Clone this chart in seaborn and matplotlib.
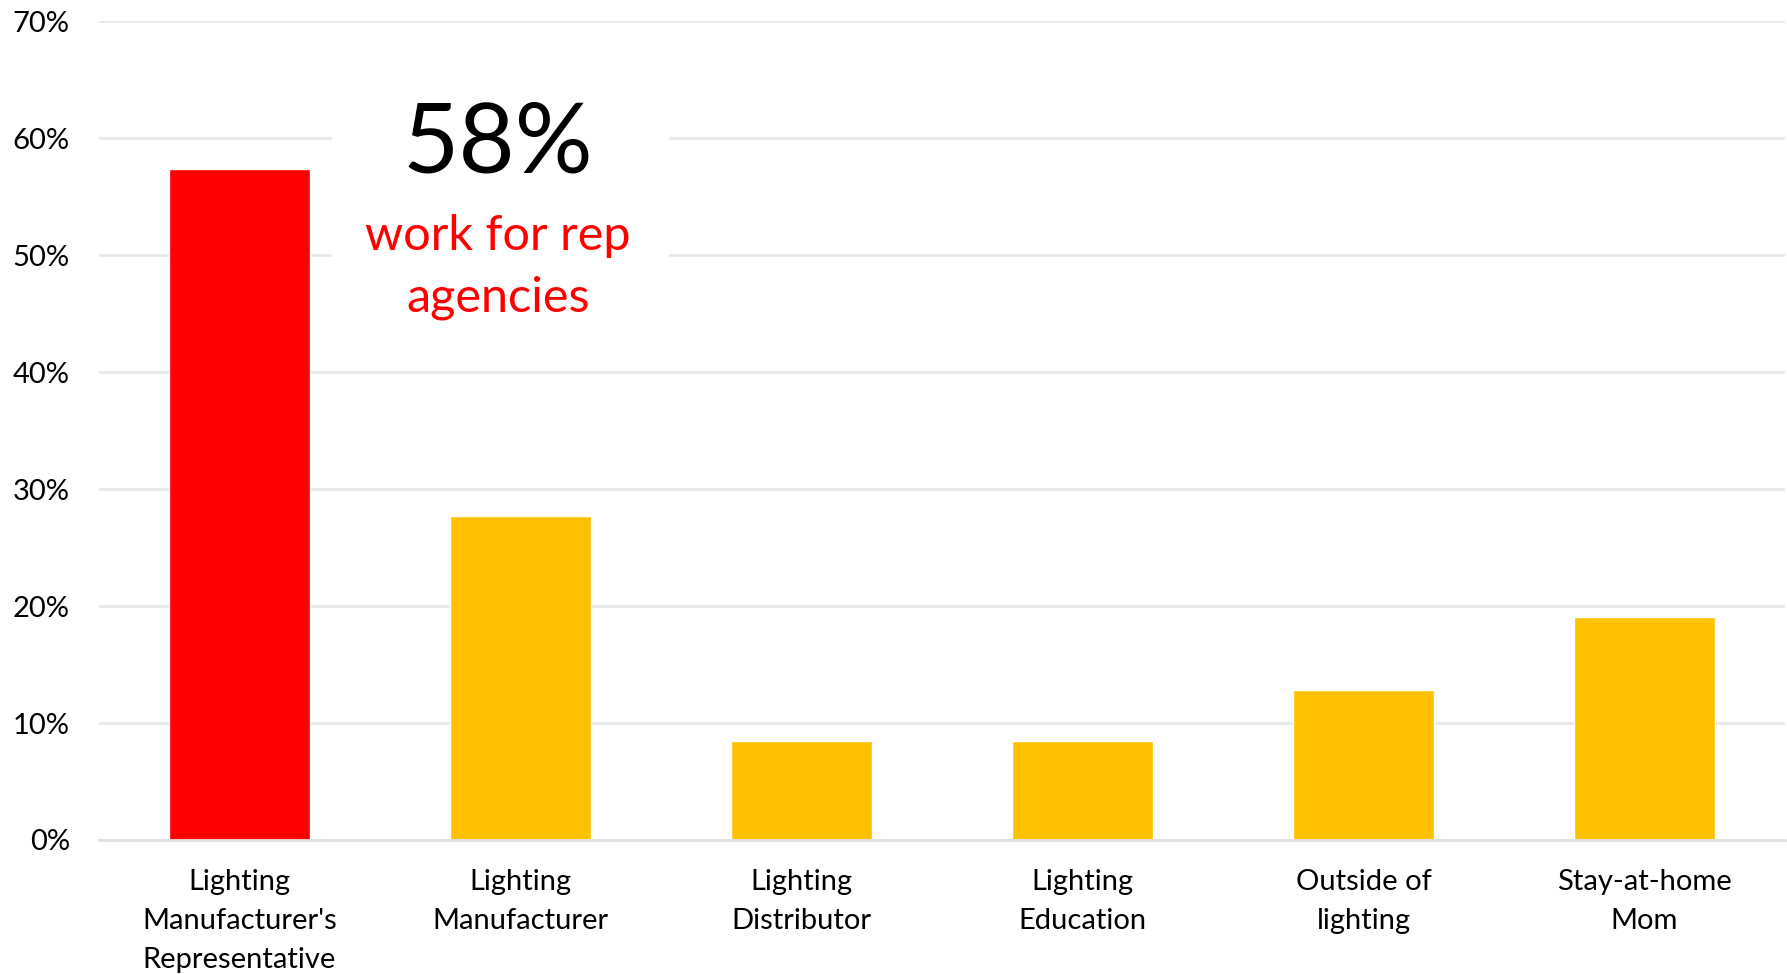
import matplotlib
matplotlib.use("Agg")
import matplotlib.pyplot as plt
import seaborn as sns
import pandas as pd
from matplotlib.patches import Rectangle
from matplotlib.ticker import FuncFormatter, MultipleLocator

categories = ["Lighting\nManufacturer's\nRepresentative", "Lighting\nManufacturer",
              "Lighting\nDistributor", "Lighting\nEducation", "Outside of\nlighting",
              "Stay-at-home\nMom"]
values = [57.4, 27.7, 8.5, 8.5, 12.8, 19.1]
bar_colors = ["#FF0000", "#FFC000", "#FFC000", "#FFC000", "#FFC000", "#FFC000"]
headline = "58%"
subline = "work for rep\nagencies"

sns.set_theme(style="white")
plt.rcParams['font.family'] = ['Lato', 'DejaVu Sans']

df = pd.DataFrame({"cat": categories, "val": values})

fig = plt.figure(figsize=(17.87, 9.74), dpi=100)
ax = fig.add_axes([0.0554, 0.1376, 0.9435, 0.8404])
sns.barplot(data=df, x="cat", y="val", hue="cat", palette=bar_colors,
            legend=False, width=0.5, ax=ax, saturation=1)

ax.set_xlim(-0.5, 5.5)
ax.set_ylim(0, 70)
ax.yaxis.set_major_locator(MultipleLocator(10))
ax.yaxis.set_major_formatter(FuncFormatter(lambda v, p: f"{v:.0f}%"))
ax.grid(axis="y", color="#E8E8E8", linewidth=2)
ax.set_axisbelow(True)
for s in ["top", "right", "left"]:
    ax.spines[s].set_visible(False)
ax.spines["bottom"].set_color("#DDE1E6")
ax.spines["bottom"].set_linewidth(2)
ax.set_xlabel("")
ax.set_ylabel("")
ax.tick_params(axis="both", length=0, labelsize=21, colors="black")
ax.tick_params(axis="y", pad=21)
ax.tick_params(axis="x", pad=21)
for lab in ax.get_xticklabels():
    lab.set_linespacing(1.62)

ax.add_patch(Rectangle((0.33, 41.5), 1.2, 22, facecolor="white", edgecolor="none", zorder=1.5))
ax.text(0.92, 59.4, headline, ha="center", va="center", fontsize=70, color="black", zorder=3)
ax.text(0.92, 49.0, subline, ha="center", va="center", fontsize=35, color="#FF0000",
        linespacing=1.5, zorder=3)

fig.savefig("out.png", dpi=100)
